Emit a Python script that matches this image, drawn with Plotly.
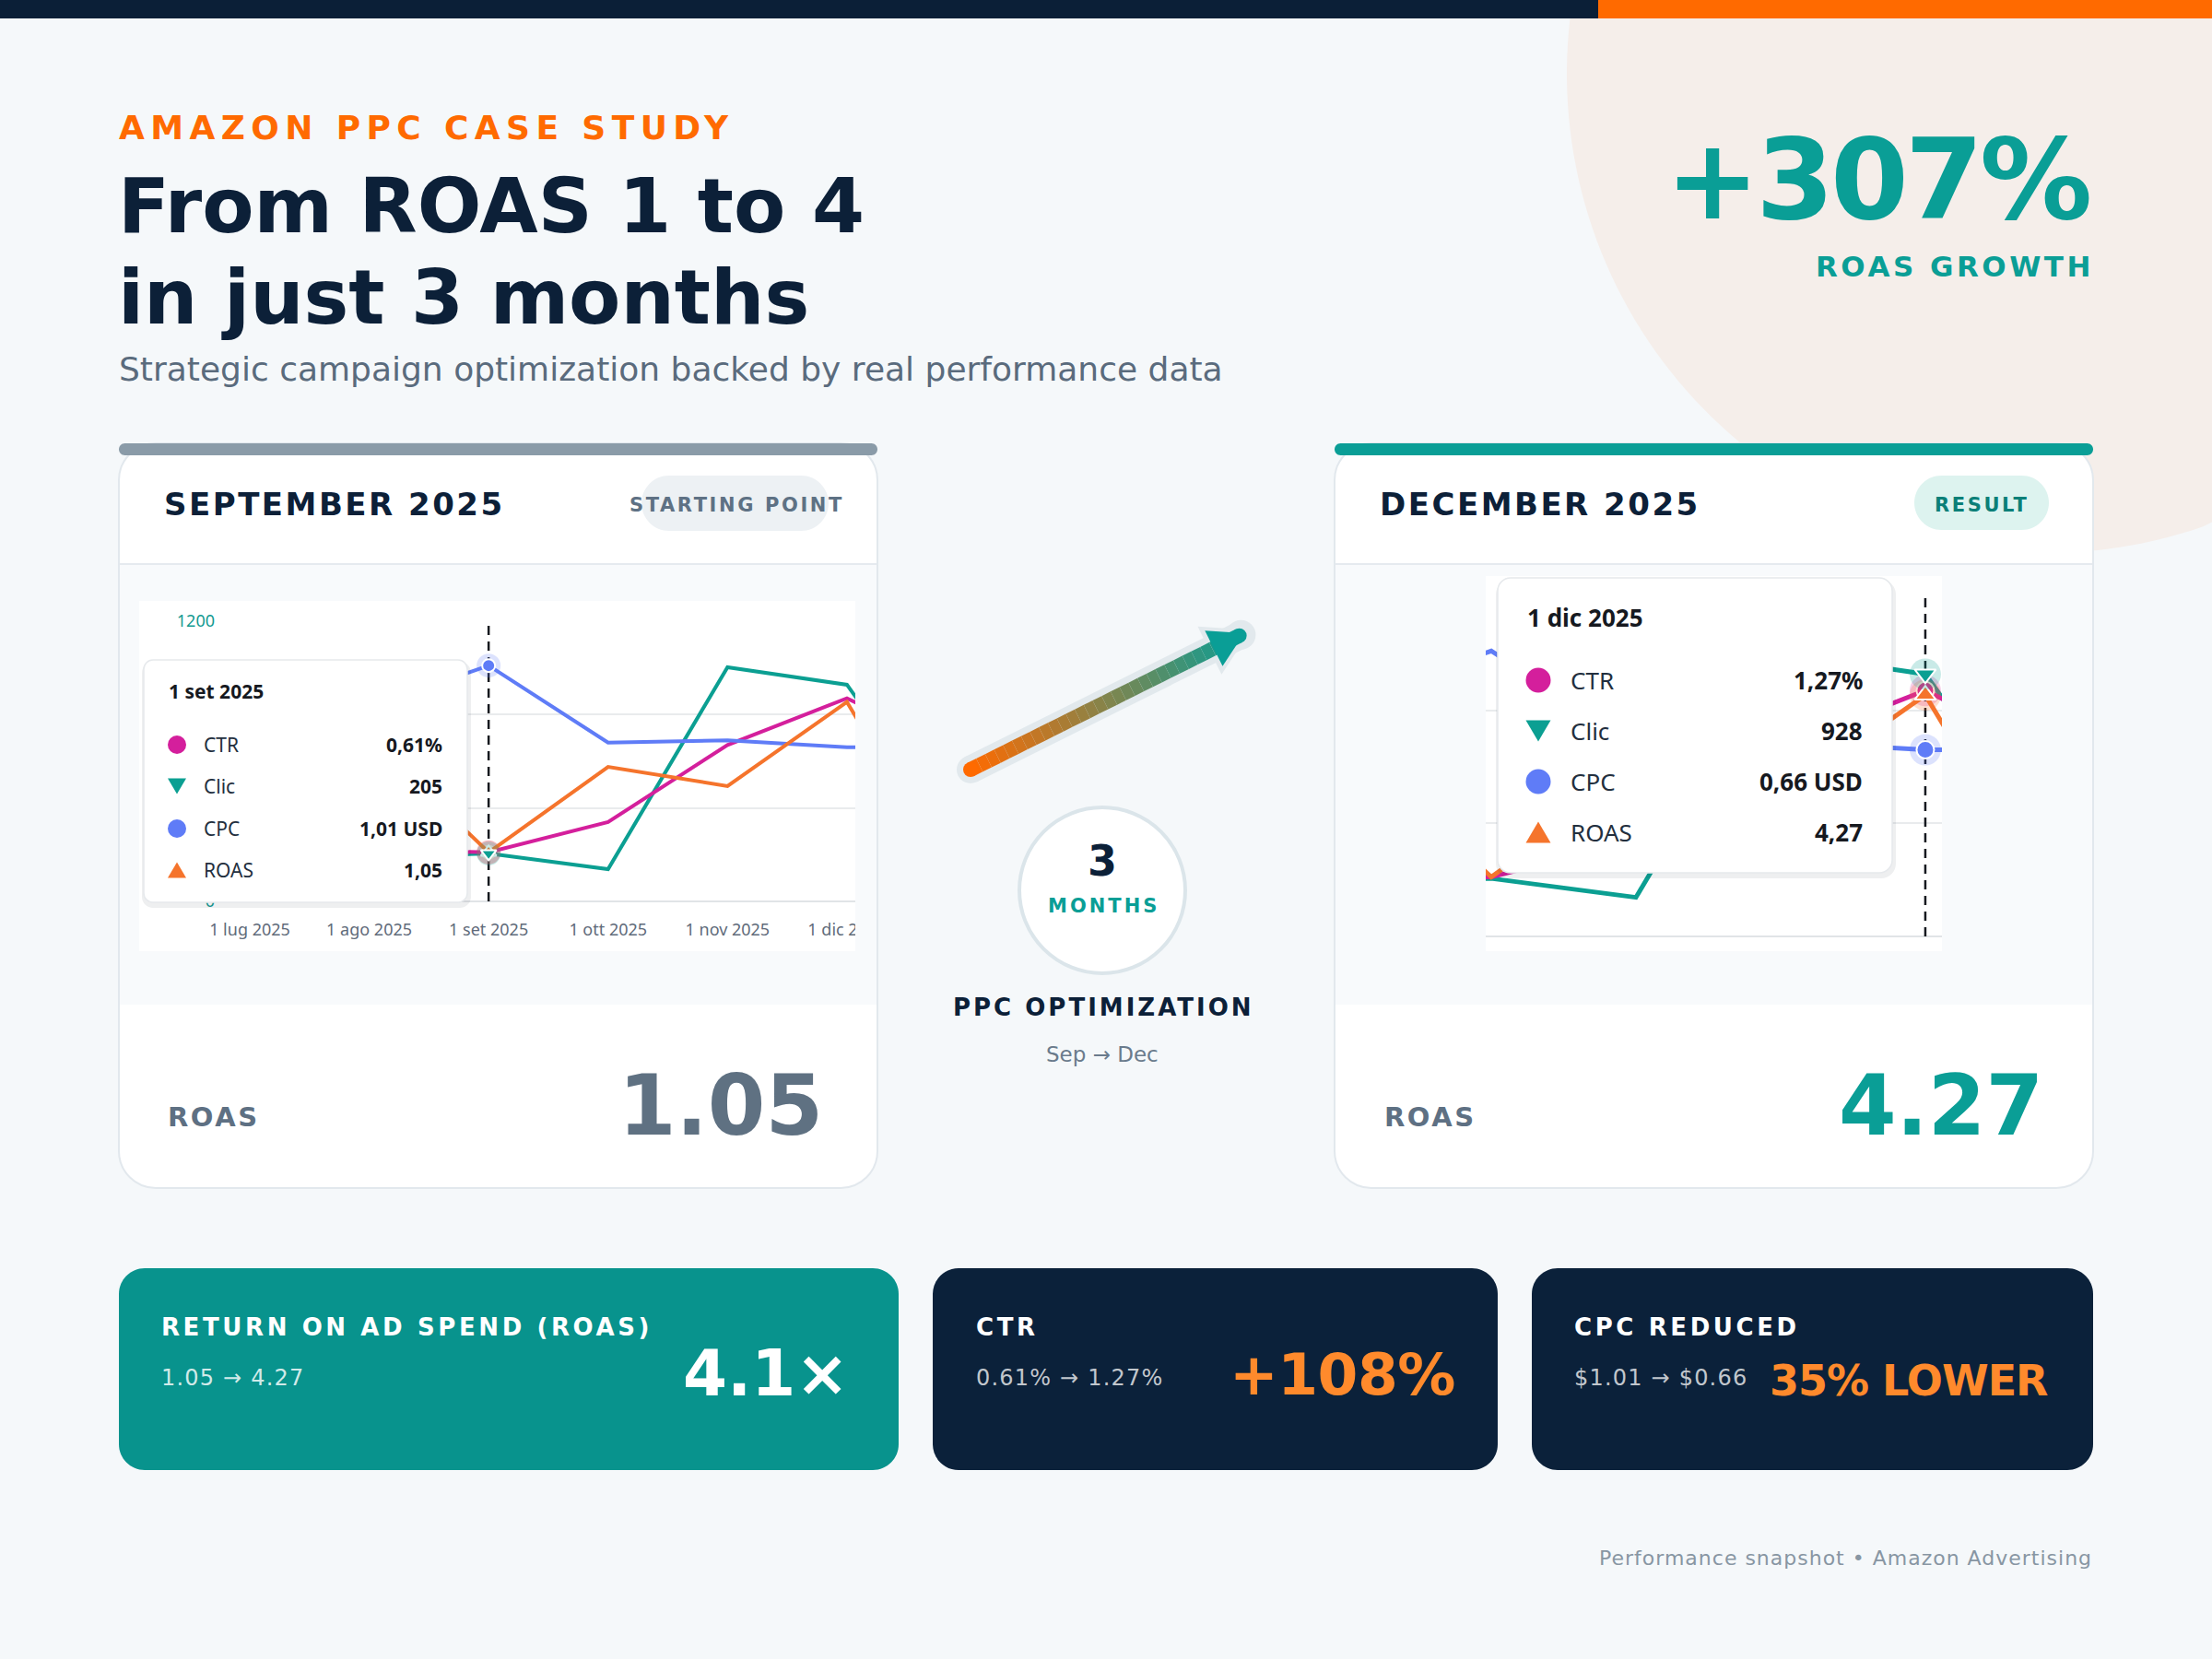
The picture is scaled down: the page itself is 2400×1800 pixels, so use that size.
import numpy as np
import plotly.graph_objects as go

# monthly values
months = ["1 lug 2025", "1 ago 2025", "1 set 2025", "1 ott 2025",
          "1 nov 2025", "1 dic 2025", "1 gen 2026"]
ctr = [0.60, 0.62, 0.61, 0.74, 1.07, 1.27, 1.02]      # %
clic = [170, 190, 205, 138, 1003, 928, 210]
cpc = [0.80, 0.83, 1.01, 0.68, 0.69, 0.66, 0.66]      # USD
roas = [3.20, 3.50, 1.05, 2.88, 2.47, 4.27, 0.00]
clic_ticks = [0, 400, 800, 1200]
sep_i, dec_i = 2, 5

W, H = 2400, 1800
BG = "#f5f8fa"
NAVY = "#0c2038"
ORANGE = "#ff6a00"
ORANGE2 = "#ff8a2c"
TEAL = "#0a9e96"
SLATE = "#5e7083"
BORDER = "#e2e8ed"

series = [
    dict(name="CTR", vals=ctr, color="#d41f9c", sym="circle", rng=[0.4, 1.6],
         fmt=lambda v: f"{v:.2f}%".replace(".", ",")),
    dict(name="Clic", vals=clic, color="#0b9f92", sym="triangle-down", rng=[0, 1200],
         fmt=lambda v: f"{v}"),
    dict(name="CPC", vals=cpc, color="#5f7cf7", sym="circle", rng=[0, 1.2],
         fmt=lambda v: f"{v:.2f} USD".replace(".", ",")),
    dict(name="ROAS", vals=roas, color="#f5742c", sym="triangle-up", rng=[0, 6],
         fmt=lambda v: f"{v:.2f}".replace(".", ",")),
]


def fx(x):
    return x / W


def fy(y):
    return 1 - y / H


def rgba(h, a):
    h = h.lstrip("#")
    return f"rgba({int(h[0:2], 16)},{int(h[2:4], 16)},{int(h[4:6], 16)},{a})"


shapes = []
annos = []
traces = []
axes = {}


def p(x, y):
    return f"{fx(x):.5f},{fy(y):.5f}"


def rect(x0, y0, x1, y1, fill, layer="below"):
    shapes.append(dict(type="rect", xref="paper", yref="paper", x0=fx(x0), x1=fx(x1),
                       y0=fy(y1), y1=fy(y0), fillcolor=fill, line=dict(width=0), layer=layer))


def rrect(x0, y0, x1, y1, r, fill, layer="below", lc=None, lw=0):
    c = 0.5523 * r
    d = (f"M{p(x0 + r, y0)} L{p(x1 - r, y0)} C{p(x1 - r + c, y0)} {p(x1, y0 + r - c)} {p(x1, y0 + r)} "
         f"L{p(x1, y1 - r)} C{p(x1, y1 - r + c)} {p(x1 - r + c, y1)} {p(x1 - r, y1)} "
         f"L{p(x0 + r, y1)} C{p(x0 + r - c, y1)} {p(x0, y1 - r + c)} {p(x0, y1 - r)} "
         f"L{p(x0, y0 + r)} C{p(x0, y0 + r - c)} {p(x0 + r - c, y0)} {p(x0 + r, y0)} Z")
    shapes.append(dict(type="path", xref="paper", yref="paper", path=d, fillcolor=fill,
                       line=dict(color=lc or "rgba(0,0,0,0)", width=lw), layer=layer))


def circle(cx, cy, r, fill, layer="below", lc=None, lw=0):
    shapes.append(dict(type="circle", xref="paper", yref="paper", x0=fx(cx - r), x1=fx(cx + r),
                       y0=fy(cy + r), y1=fy(cy - r), fillcolor=fill,
                       line=dict(color=lc or "rgba(0,0,0,0)", width=lw), layer=layer))


def poly(pts, fill, layer="below"):
    d = "M" + " L".join(p(x, y) for x, y in pts) + " Z"
    shapes.append(dict(type="path", xref="paper", yref="paper", path=d, fillcolor=fill,
                       line=dict(width=0), layer=layer))


def seg(x0, y0, x1, y1, color, width, layer="below"):
    shapes.append(dict(type="line", xref="paper", yref="paper", x0=fx(x0), y0=fy(y0),
                       x1=fx(x1), y1=fy(y1), line=dict(color=color, width=width), layer=layer))


def tri(cx, cy, w, h, fill, down):
    if down:
        pts = [(cx - w / 2, cy - h / 2), (cx + w / 2, cy - h / 2), (cx, cy + h / 2)]
    else:
        pts = [(cx - w / 2, cy + h / 2), (cx + w / 2, cy + h / 2), (cx, cy - h / 2)]
    poly(pts, fill, "above")


def text(x, y, s, size, color, bold=False, ls=0, xa="left", family="DejaVu Sans"):
    if ls:
        s = f"<span style='letter-spacing:{ls}px'>{s}</span>"
    annos.append(dict(xref="paper", yref="paper", x=fx(x), y=fy(y), text=s, showarrow=False,
                      xanchor=xa, yanchor="middle",
                      font=dict(family=family, size=size, color=color,
                                weight=700 if bold else 400)))


def lk(a):
    return a[0] + "axis" + a[1:]


def chart(xid, yids, xdom, ydom, xrng, lw, hi, labels, halo, msz):
    base, top = yids["Clic"], yids["top"]
    axes[lk(xid)] = dict(domain=xdom, range=xrng, type="category", categoryorder="array",
                         categoryarray=months, anchor=base, showgrid=False, zeroline=False,
                         showline=False, ticks="", showticklabels=labels, tickmode="array",
                         tickvals=months[:6], ticklabelstandoff=18, fixedrange=True,
                         automargin=False,
                         tickfont=dict(family="Noto Sans", size=18, color="#5f6b7a"))
    axes[lk(base)] = dict(domain=ydom, range=[0, 1200], anchor=xid, tickmode="array",
                          tickvals=clic_ticks, showgrid=True, gridcolor="#e9ebed", gridwidth=2,
                          zeroline=True, zerolinecolor="#e1e4e7", zerolinewidth=2,
                          showline=False, ticks="", showticklabels=labels,
                          ticklabelstandoff=20, fixedrange=True, automargin=False,
                          tickfont=dict(family="Noto Sans", size=18, color="#139a91"))
    for s in series:
        if s["name"] != "Clic":
            axes[lk(yids[s["name"]])] = dict(domain=ydom, range=s["rng"], anchor=xid,
                                             overlaying=base, visible=False, fixedrange=True,
                                             automargin=False)
    axes[lk(top)] = dict(domain=ydom, range=[0, 1200], anchor=xid, overlaying=base,
                         visible=False, fixedrange=True, automargin=False)

    traces.append(go.Scatter(x=[months[hi]] * 2, y=[clic_ticks[0], clic_ticks[-1]],
                             xaxis=xid, yaxis=base, mode="lines", hoverinfo="skip",
                             line=dict(color="#16191f", width=2.5, dash="10px,7px")))
    for s in series:
        traces.append(go.Scatter(x=months, y=s["vals"], xaxis=xid, yaxis=yids[s["name"]],
                                 mode="lines", hoverinfo="skip",
                                 line=dict(color=s["color"], width=lw)))
    for s in series:
        ya = top if s["name"] == "Clic" else yids[s["name"]]
        sz = msz if s["sym"] == "circle" else msz * 1.05
        traces.append(go.Scatter(x=[months[hi]], y=[s["vals"][hi]], xaxis=xid, yaxis=ya,
                                 mode="markers", hoverinfo="skip",
                                 marker=dict(size=halo, color=rgba(s["color"], 0.22))))
        traces.append(go.Scatter(x=[months[hi]], y=[s["vals"][hi]], xaxis=xid, yaxis=ya,
                                 mode="markers", hoverinfo="skip",
                                 marker=dict(size=sz, color=s["color"], symbol=s["sym"],
                                             line=dict(color="white", width=2))))


def tooltip(x0, y0, x1, y1, r, hi, tx, ty, tsize, rows, mx, lx, vx, size, mr):
    rrect(x0 - 2, y0 + 2, x1 + 4, y1 + 6, r + 2, "rgba(20,30,40,0.07)", "above")
    rrect(x0, y0, x1, y1, r, "white", "above", "#e6e9ec", 1.5)
    text(tx, ty, months[hi], tsize, "#16191f", True, 0, "left", "Noto Sans")
    for s, ry in zip(series, rows):
        if s["sym"] == "circle":
            circle(mx, ry, mr, s["color"], "above")
        else:
            tri(mx, ry, mr * 2.0, mr * 1.7, s["color"], s["sym"] == "triangle-down")
        text(lx, ry, s["name"], size, "#232f3e", False, 0, "left", "Noto Sans")
        text(vx, ry, s["fmt"](s["vals"][hi]), size, "#16191f", True, 0, "right", "Noto Sans")


# ---------------- background ----------------
# soft peach disc in the top-right corner, kept inside the page
ang = np.linspace(0, 2 * np.pi, 240)
disc = np.column_stack([np.clip(2220 + 520 * np.cos(ang), 0, W),
                        np.clip(80 + 520 * np.sin(ang), 0, H)])
poly([tuple(q) for q in disc], "rgba(255,120,40,0.075)")
rect(0, 0, 1734, 20, "#0b1f37")
rect(1734, 0, W, 20, ORANGE)

# ---------------- header ----------------
text(127, 139, "AMAZON PPC CASE STUDY", 36, ORANGE, True, 6.4)
text(126, 223, "From ROAS 1 to 4", 82, NAVY, True, 0)
text(126, 322, "in just 3 months", 82, NAVY, True, 0)
text(127, 401, "Strategic campaign optimization backed by real performance data", 36, "#5a6b7d")
growth = round((roas[dec_i] / roas[sep_i] - 1) * 100)
text(2269, 195, f"+{growth}%", 122, TEAL, True, -4, "right")
text(2274, 289, "ROAS GROWTH", 31, TEAL, True, 3.5, "right")

# ---------------- cards ----------------
for x0, x1, bar, cw0, cw1, cy0 in [(129, 952, "#8a9ba8", 151, 928, 652),
                                   (1448, 2271, TEAL, 1612, 2107, 625)]:
    rrect(x0, 481, x1, 1289, 40, "white", lc=BORDER, lw=2)
    rect(x0 + 1, 612, x1 - 1, 1090, "#f8fafc")
    seg(x0 + 1, 612, x1 - 1, 612, "#e5eaef", 2)
    rect(cw0, cy0, cw1, 1032, "white")
    rrect(x0, 481, x1, 494, 6.5, bar)

text(176, 547, "SEPTEMBER 2025", 34, NAVY, True, 2.5)
rrect(696, 516, 899, 576, 30, "#edf1f4")
text(799, 548, "STARTING POINT", 21, "#5e7184", True, 2.6, "center")
text(180, 1212, "ROAS", 29, SLATE, True, 2.5)
text(895, 1199, f"{roas[sep_i]:.2f}", 90, "#5f7182", True, 0, "right")

text(1495, 547, "DECEMBER 2025", 34, NAVY, True, 2.5)
rrect(2077, 516, 2223, 575, 29.5, "#ddf3ef")
text(2150, 548, "RESULT", 21, "#0b7f78", True, 2.6, "center")
text(1500, 1212, "ROAS", 29, SLATE, True, 2.5)
text(2219, 1199, f"{roas[dec_i]:.2f}", 90, TEAL, True, 0, "right")

# ---------------- mini charts ----------------
chart("x", dict(Clic="y", CTR="y2", CPC="y3", ROAS="y4", top="y5"),
      [fx(254), fx(928)], [fy(978), fy(674)], [-0.131, 5.07], 4, sep_i, True, 26, 14)
chart("x2", dict(Clic="y6", CTR="y7", CPC="y8", ROAS="y9", top="y10"),
      [fx(1612), fx(2107)], [fy(1016), fy(648)], [1.962, 5.115], 5, dec_i, False, 34, 19)

# hide the clipped part of the last month label, as in the screenshot
rect(928, 996, 951, 1034, "#f8fafc", "above")
rect(953, 996, 985, 1034, BG, "above")
seg(952, 990, 952, 1040, BORDER, 2, "above")

tooltip(156, 716, 507, 979, 10, sep_i, 181, 750, 21, [808, 853, 899, 944],
        192, 219, 482, 21, 10)
tooltip(1625, 627, 2053, 947, 14, dec_i, 1655, 670, 26, [738, 793, 848, 903],
        1669, 1702, 2023, 26, 13.5)

# ---------------- middle arrow + badge ----------------
tail = np.array([1053.0, 835.0])
apex = np.array([1350.0, 687.0])
d = (apex - tail) / np.linalg.norm(apex - tail)
n = np.array([-d[1], d[0]])
halo_c = "#e2e9ed"
seg(*tail, *apex, halo_c, 30)
circle(*tail, 15, halo_c)
circle(*(apex - 4 * d), 16, halo_c)
hb = apex - 42 * d
poly([tuple(apex + 8 * d), tuple(hb + 29 * n), tuple(hb - 29 * n)], halo_c)
c0 = np.array([255, 106, 0])
c1 = np.array([10, 158, 150])
end = apex - 6 * d
nseg = 30
for k in range(nseg):
    a = tail + (end - tail) * k / nseg
    b = tail + (end - tail) * (k + 1) / nseg
    col = c0 + (c1 - c0) * (k + 0.5) / nseg
    seg(*a, *b, "rgb({:.0f},{:.0f},{:.0f})".format(*col), 16)
circle(*tail, 8, "#ff6a00")
circle(*end, 8, TEAL)
bm = apex - 37 * d
poly([tuple(apex), tuple(bm + 21.5 * n), tuple(bm - 21.5 * n)], TEAL)

circle(1196, 966, 90, "white", lc="#dbe5ea", lw=4)
text(1196, 934, "3", 46, NAVY, True, 0, "center")
text(1197, 983, "MONTHS", 21, TEAL, True, 3, "center")
text(1197, 1093, "PPC OPTIMIZATION", 26, NAVY, True, 3, "center")
text(1196, 1144, "Sep → Dec", 23, "#6a7b8c", False, 0, "center")

# ---------------- KPI strip ----------------
rrect(129, 1376, 975, 1595, 28, "#08938d")
rrect(1012, 1376, 1625, 1595, 28, "#0b213a")
rrect(1662, 1376, 2271, 1595, 28, "#0b213a")

mult = roas[dec_i] / roas[sep_i]
ctr_up = round((ctr[dec_i] / ctr[sep_i] - 1) * 100)
cpc_down = round((1 - cpc[dec_i] / cpc[sep_i]) * 100)

text(173, 1440, "RETURN ON AD SPEND (ROAS)", 26, "white", True, 3.6)
text(173, 1495, f"{roas[sep_i]:.2f} → {roas[dec_i]:.2f}", 24, "rgba(255,255,255,0.82)", False, 1.2)
text(923, 1490, f"{mult:.1f}×", 69, "white", True, 0, "right")

text(1057, 1440, "CTR", 26, "white", True, 3.6)
text(1057, 1495, f"{ctr[sep_i]:.2f}% → {ctr[dec_i]:.2f}%", 24, "rgba(255,255,255,0.75)", False, 1.2)
text(1581, 1491, f"+{ctr_up}%", 63, ORANGE2, True, -0.5, "right")

text(1706, 1440, "CPC REDUCED", 26, "white", True, 3.6)
text(1706, 1495, f"${cpc[sep_i]:.2f} → ${cpc[dec_i]:.2f}", 24, "rgba(255,255,255,0.75)", False, 1.2)
text(2224, 1498, f"{cpc_down}% LOWER", 46, ORANGE2, True, -1, "right")

text(2272, 1690, "Performance snapshot • Amazon Advertising", 22, "#8896a3", False, 1.0, "right")

fig = go.Figure(traces)
fig.update_layout(width=W, height=H,
                  margin=dict(l=0, r=0, t=0, b=0, pad=0, autoexpand=False),
                  paper_bgcolor=BG, plot_bgcolor="rgba(0,0,0,0)", showlegend=False,
                  shapes=shapes, annotations=annos, **axes)
fig.write_html("out.html", config={"displayModeBar": False},
               post_script="document.body.style.margin='0';document.body.style.overflow='hidden';")
